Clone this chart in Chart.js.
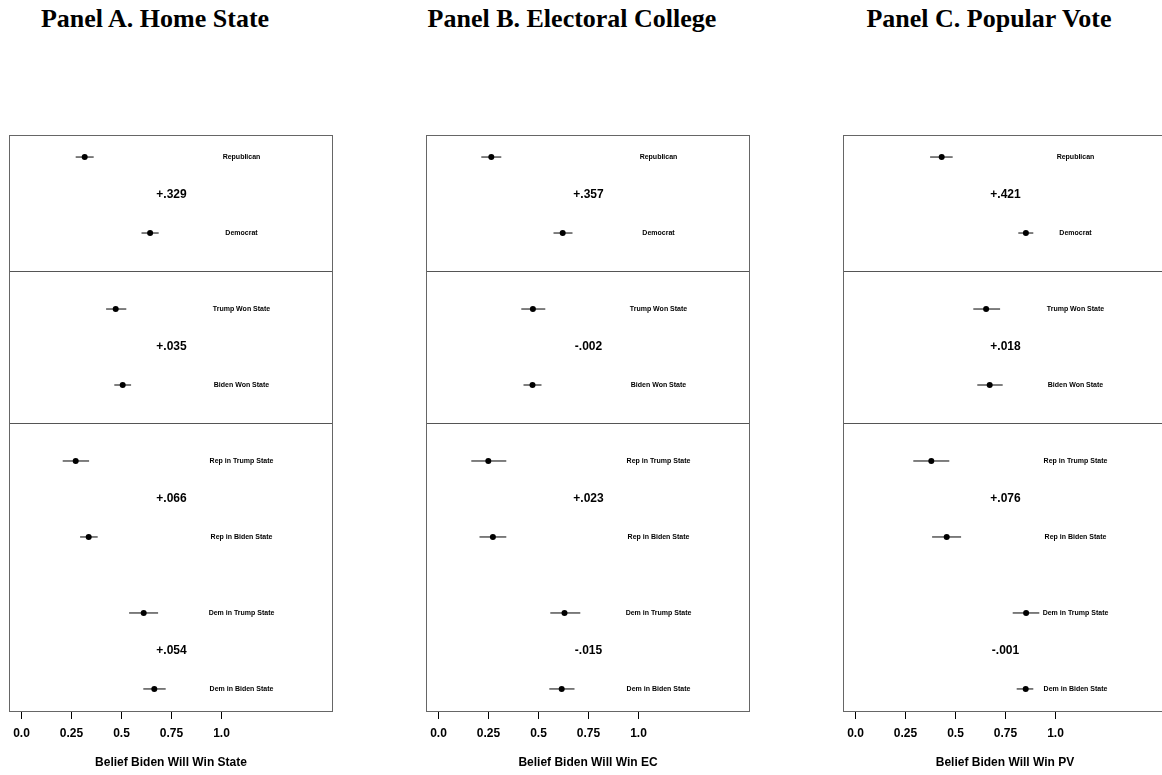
<!DOCTYPE html>
<html>
<head>
<meta charset="utf-8">
<script src="https://cdn.jsdelivr.net/npm/chart.js@4.4.1/dist/chart.umd.min.js"></script>
<style>
    body { margin: 0; width: 1162px; height: 775px; overflow: hidden; background: #fff; position: relative; }
    .panel { position: absolute; top: 0; width: 417px; height: 775px; }
    .panel h3 {
        position: absolute; top: 3px; left: 0; width: 310px; margin: 0;
        text-align: center; font: bold 26px/32px "Liberation Serif", "Times New Roman", serif; color: #000;
        white-space: nowrap;
    }
    .panel canvas { position: absolute; top: 0; left: 0; }
</style>
</head>
<body>
<div class="panel" style="left:0px"><h3 id="title0"></h3><canvas id="panel0" width="417" height="775"></canvas></div>
<div class="panel" style="left:417px"><h3 id="title1"></h3><canvas id="panel1" width="417" height="775"></canvas></div>
<div class="panel" style="left:834px"><h3 id="title2"></h3><canvas id="panel2" width="417" height="775"></canvas></div>
<script>
// datos
const panelTitles = ['Panel A. Home State', 'Panel B. Electoral College', 'Panel C. Popular Vote'];
const axisTitles = ['Belief Biden Will Win State', 'Belief Biden Will Win EC', 'Belief Biden Will Win PV'];

const rowLabels = ['Republican', 'Democrat', 'Trump Won State', 'Biden Won State',
    'Rep in Trump State', 'Rep in Biden State', 'Dem in Trump State', 'Dem in Biden State'];

const tickValues = [0, 0.25, 0.5, 0.75, 1.0];
const tickLabels = ['0.0', '0.25', '0.5', '0.75', '1.0'];

// Panel A - estado propio
const homeMean = [0.316, 0.643, 0.471, 0.506, 0.271, 0.336, 0.611, 0.664];
const homeLow  = [0.271, 0.600, 0.423, 0.464, 0.206, 0.293, 0.538, 0.609];
const homeHigh = [0.361, 0.686, 0.524, 0.548, 0.338, 0.381, 0.683, 0.721];
const homeDiffs = ['+.329', '+.035', '+.066', '+.054'];

// Panel B - colegio electoral
const ecMean = [0.264, 0.621, 0.472, 0.470, 0.249, 0.272, 0.630, 0.616];
const ecLow  = [0.214, 0.575, 0.414, 0.425, 0.164, 0.205, 0.559, 0.554];
const ecHigh = [0.314, 0.670, 0.534, 0.515, 0.339, 0.339, 0.709, 0.680];
const ecDiffs = ['+.357', '-.002', '+.023', '-.015'];

// Panel C - voto popular
const pvMean = [0.431, 0.852, 0.653, 0.671, 0.379, 0.456, 0.853, 0.851];
const pvLow  = [0.373, 0.814, 0.589, 0.609, 0.289, 0.383, 0.786, 0.806];
const pvHigh = [0.486, 0.889, 0.723, 0.736, 0.469, 0.528, 0.919, 0.889];
const pvDiffs = ['+.421', '+.018', '+.076', '-.001'];

const separators = [2.5, 4.5];

const panels = [
    { mean: homeMean, low: homeLow, high: homeHigh, diffs: homeDiffs },
    { mean: ecMean, low: ecLow, high: ecHigh, diffs: ecDiffs },
    { mean: pvMean, low: pvLow, high: pvHigh, diffs: pvDiffs }
];

const FONT = '"Liberation Sans", Arial, sans-serif';

// marco alrededor del area del grafico
const framePlugin = {
    id: 'frame',
    afterDraw(chart) {
        const { ctx, chartArea: a } = chart;
        ctx.save();
        ctx.strokeStyle = '#666';
        ctx.lineWidth = 1;
        ctx.strokeRect(a.left + 0.5, a.top + 0.5, a.right - a.left - 1, a.bottom - a.top);
        ctx.restore();
    }
};

// etiquetas de filas y diferencias
const textPlugin = {
    id: 'rowText',
    afterDatasetsDraw(chart, args, opts) {
        const { ctx, scales: { x, y } } = chart;
        ctx.save();
        ctx.fillStyle = '#000';
        ctx.textAlign = 'center';
        ctx.textBaseline = 'middle';
        ctx.font = 'bold 7px ' + FONT;
        rowLabels.forEach((label, i) => {
            ctx.fillText(label, x.getPixelForValue(1.1), y.getPixelForValue(i + 1));
        });
        ctx.font = 'bold 12px ' + FONT;
        opts.diffs.forEach((d, k) => {
            ctx.fillText(d, x.getPixelForValue(0.75), y.getPixelForValue(2 * k + 1.5));
        });
        ctx.restore();
    }
};

panels.forEach((p, n) => {
    document.getElementById('title' + n).textContent = panelTitles[n];

    const ciSets = rowLabels.map((label, i) => ({
        type: 'line',
        label: label,
        data: [{ x: p.low[i], y: i + 1 }, { x: p.high[i], y: i + 1 }],
        borderColor: '#000',
        borderWidth: 1,
        pointRadius: 0,
        showLine: true
    }));

    new Chart(document.getElementById('panel' + n), {
        type: 'scatter',
        data: {
            datasets: [{
                label: 'mean',
                data: p.mean.map((m, i) => ({ x: m, y: i + 1 })),
                backgroundColor: '#000',
                borderWidth: 0,
                pointRadius: 3
            }].concat(ciSets)
        },
        options: {
            responsive: false,
            animation: false,
            layout: { padding: { left: 9, right: 84, top: 135, bottom: 0 } },
            plugins: {
                legend: { display: false },
                tooltip: { enabled: false },
                rowText: { diffs: p.diffs }
            },
            scales: {
                x: {
                    type: 'linear',
                    position: 'bottom',
                    min: -0.0625,
                    max: 1.5575,
                    afterBuildTicks: (scale) => { scale.ticks = tickValues.map(v => ({ value: v })); },
                    afterFit: (scale) => { scale.height = 64; },
                    ticks: {
                        padding: 7,
                        maxRotation: 0,
                        color: '#000',
                        font: { family: FONT, size: 12, weight: 'bold' },
                        callback: (v) => tickLabels[tickValues.indexOf(v)]
                    },
                    grid: { drawOnChartArea: false, drawTicks: true, tickLength: 8, tickColor: '#000', color: '#000' },
                    border: { display: false },
                    title: {
                        display: true,
                        text: axisTitles[n],
                        color: '#000',
                        font: { family: FONT, size: 12, weight: 'bold' },
                        padding: { top: 0, bottom: 5 }
                    }
                },
                y: {
                    type: 'linear',
                    reverse: true,
                    min: 0.71,
                    max: 8.29,
                    afterBuildTicks: (scale) => { scale.ticks = separators.map(v => ({ value: v })); },
                    afterFit: (scale) => { scale.width = 0; },
                    ticks: { display: false },
                    grid: { drawTicks: false, color: '#555', lineWidth: 1 },
                    border: { display: false }
                }
            }
        },
        plugins: [framePlugin, textPlugin]
    });
});
</script>
</body>
</html>
